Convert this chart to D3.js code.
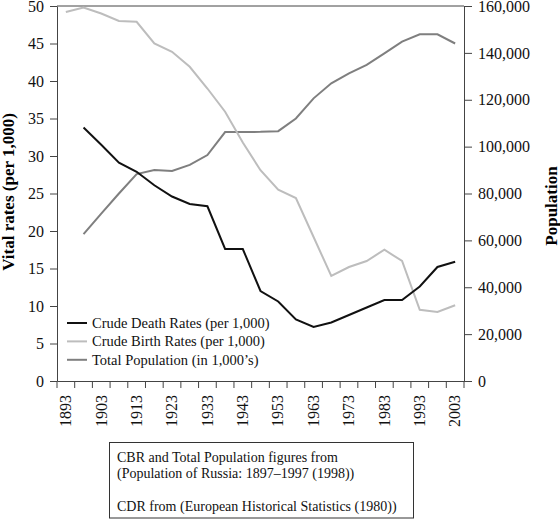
<!DOCTYPE html>
<html>
<head>
<meta charset="utf-8">
<script src="https://cdn.jsdelivr.net/npm/d3@7"></script>
<style>
  html, body { margin: 0; padding: 0; background: #fff; }
  svg { display: block; font-family: "Liberation Serif", "Times New Roman", serif; }
  .axis path, .axis line { stroke: #444; }
  .axis text { fill: #111; font-size: 16px; font-family: "Liberation Serif", serif; }
</style>
</head>
<body>
<div id="chart"></div>
<script>
// Five-year categories on the x axis
const years = [1893, 1898, 1903, 1908, 1913, 1918, 1923, 1928, 1933, 1938, 1943, 1948,
  1953, 1958, 1963, 1968, 1973, 1978, 1983, 1988, 1993, 1998, 2003];

// Crude death rates (per 1,000)
const deathRates = [null, 33.8, 31.5, 29.1, 27.9, 26.1, 24.6, 23.6, 23.3, 17.6, 17.6, 12.0,
  10.6, 8.2, 7.2, 7.8, 8.8, 9.8, 10.8, 10.8, 12.6, 15.2, 15.9];

// Crude birth rates (per 1,000)
const birthRates = [49.2, 49.8, 49.0, 48.0, 47.9, 45.0, 43.9, 41.9, 39.0, 35.9, 31.8, 28.1,
  25.5, 24.4, 19.2, 14.0, 15.2, 16.0, 17.5, 16.0, 9.5, 9.2, 10.1];

// Total population (in 1,000's), right axis
const population = [null, 62700, 71400, 80000, 88300, 90000, 89600, 92200, 96400, 106200,
  106200, 106300, 106600, 112000, 120600, 127000, 131300, 134900, 139800, 144800,
  147900, 147900, 144000];

const rateTicks = [0, 5, 10, 15, 20, 25, 30, 35, 40, 45, 50];
const popTicks = [0, 20000, 40000, 60000, 80000, 100000, 120000, 140000, 160000];

const seriesNames = ['Crude Death Rates (per 1,000)', 'Crude Birth Rates (per 1,000)', 'Total Population (in 1,000\u2019s)'];
const seriesColors = ['#111', '#bdbdbd', '#7f7f7f'];

const noteLines = [
  'CBR and Total Population figures from',
  '(Population of Russia: 1897\u20131997 (1998))',
  '',
  'CDR from (European Historical Statistics (1980))'
];

const svgWidth = 560;
const svgHeight = 520;
const plot = { left: 57, right: 464, top: 6, bottom: 381 };

const svg = d3.select('#chart')
  .append('svg')
  .attr('width', svgWidth)
  .attr('height', svgHeight);

const x = d3.scaleBand().domain(years).range([plot.left, plot.right]).padding(0);
const yRate = d3.scaleLinear().domain([0, 50]).range([plot.bottom, plot.top]);
const yPop = d3.scaleLinear().domain([0, 160000]).range([plot.bottom, plot.top]);
const cx = (d) => x(d) + x.bandwidth() / 2;

// top border of the plot box
svg.append('line')
  .attr('x1', plot.left).attr('x2', plot.right)
  .attr('y1', plot.top).attr('y2', plot.top)
  .attr('stroke', '#444');

// left axis
svg.append('g')
  .attr('class', 'axis')
  .attr('transform', `translate(${plot.left},0)`)
  .call(d3.axisLeft(yRate).tickValues(rateTicks).tickSize(7).tickSizeOuter(0).tickPadding(6));

// right axis
svg.append('g')
  .attr('class', 'axis')
  .attr('transform', `translate(${plot.right},0)`)
  .call(d3.axisRight(yPop).tickValues(popTicks).tickFormat(d3.format(',')).tickSize(8).tickSizeOuter(0).tickPadding(6));

// bottom axis: labels every other category, centred in the band
const xAxis = svg.append('g')
  .attr('class', 'axis')
  .attr('transform', `translate(0,${plot.bottom})`)
  .call(d3.axisBottom(x).tickSize(0).tickSizeOuter(0)
    .tickFormat((d, i) => (i % 2 === 0 ? d : '')));
xAxis.selectAll('.tick text')
  .attr('transform', 'rotate(-90)')
  .attr('text-anchor', 'end')
  .attr('dy', '0.33em')
  .attr('dx', 0)
  .attr('x', -14)
  .attr('y', 0);

// tick marks sit on the band boundaries
const boundaries = years.map((d) => x(d)).concat([x.range()[1]]);
xAxis.selectAll('.bound')
  .data(boundaries)
  .join('line')
  .attr('class', 'bound')
  .attr('x1', (d) => d).attr('x2', (d) => d)
  .attr('y1', 0).attr('y2', 7)
  .attr('stroke', '#444');

// lines
const rateLine = d3.line()
  .defined((d) => d.v != null)
  .x((d) => cx(d.year))
  .y((d) => yRate(d.v));
const popLine = d3.line()
  .defined((d) => d.v != null)
  .x((d) => cx(d.year))
  .y((d) => yPop(d.v));

const zip = (vals) => years.map((year, i) => ({ year, v: vals[i] }));

svg.append('path')
  .attr('d', popLine(zip(population)))
  .attr('fill', 'none').attr('stroke', seriesColors[2]).attr('stroke-width', 2);
svg.append('path')
  .attr('d', rateLine(zip(birthRates)))
  .attr('fill', 'none').attr('stroke', seriesColors[1]).attr('stroke-width', 2);
svg.append('path')
  .attr('d', rateLine(zip(deathRates)))
  .attr('fill', 'none').attr('stroke', seriesColors[0]).attr('stroke-width', 2);

// axis titles
svg.append('text')
  .attr('transform', `translate(14,192) rotate(-90)`)
  .attr('text-anchor', 'middle')
  .attr('font-weight', 'bold')
  .attr('font-size', 17)
  .text('Vital rates (per 1,000)');
svg.append('text')
  .attr('transform', `translate(557,206) rotate(-90)`)
  .attr('text-anchor', 'middle')
  .attr('font-weight', 'bold')
  .attr('font-size', 17)
  .text('Population');

// legend
const legend = svg.append('g').attr('transform', 'translate(67,323)');
const item = legend.selectAll('g')
  .data(seriesNames)
  .join('g')
  .attr('transform', (d, i) => `translate(0,${i * 18.4})`);
item.append('line')
  .attr('x1', 0).attr('x2', 20)
  .attr('stroke', (d, i) => seriesColors[i])
  .attr('stroke-width', 2);
item.append('text')
  .attr('x', 25)
  .attr('dy', '0.35em')
  .attr('font-size', 14.5)
  .attr('fill', '#111')
  .text((d) => d);

// source note box
svg.append('rect')
  .attr('x', 109.5).attr('y', 442.5)
  .attr('width', 304).attr('height', 75.5)
  .attr('fill', 'none').attr('stroke', '#333');
svg.append('g')
  .selectAll('text')
  .data(noteLines)
  .join('text')
  .attr('x', 117)
  .attr('y', (d, i) => 462 + i * 16.4)
  .attr('font-size', 14)
  .attr('fill', '#111')
  .text((d) => d);
</script>
</body>
</html>
